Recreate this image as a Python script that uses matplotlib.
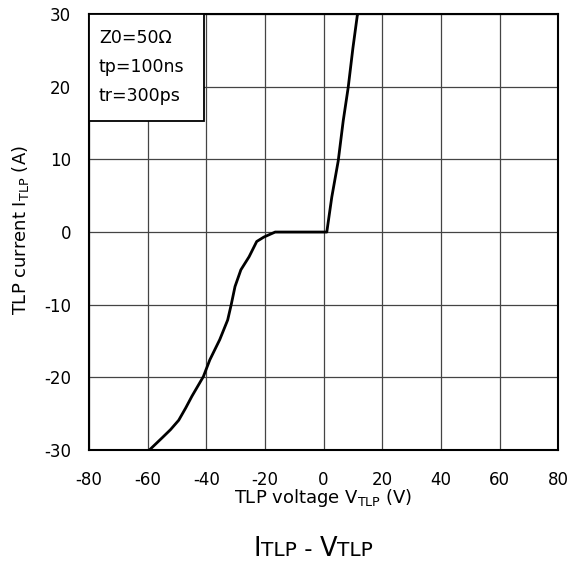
import matplotlib
matplotlib.use("Agg")
import matplotlib.pyplot as plt
from matplotlib.patches import Rectangle

# TLP I-V curve
v_neg = [-59.4, -55.0, -52.2, -49.4, -47.0, -44.9, -41.0, -38.8, -35.4, -32.7,
         -31.5, -30.2, -28.2, -25.4, -22.8, -20.4, -16.5, 0.0, 1.1]
i_neg = [-30.0, -28.3, -27.2, -25.9, -24.2, -22.6, -19.9, -17.6, -14.8, -12.1,
         -10.0, -7.5, -5.2, -3.4, -1.3, -0.7, 0.0, 0.0, 0.0]
v_pos = [2.8, 5.0, 6.7, 8.4, 10.0, 11.5, 11.7]
i_pos = [4.8, 9.8, 15.3, 19.9, 25.3, 29.8, 30.0]

x_ticks = [-80, -60, -40, -20, 0, 20, 40, 60, 80]
y_ticks = [-30, -20, -10, 0, 10, 20, 30]
conditions = ["Z0=50Ω", "tp=100ns", "tr=300ps"]

plt.rcParams['font.family'] = ['DejaVu Sans']
plt.rcParams['axes.unicode_minus'] = False
fig = plt.figure(figsize=(5.76, 5.63), dpi=100)
ax = fig.add_axes([0.1545, 0.2007, 0.8145, 0.7743])

v = v_neg + v_pos
i = i_neg + i_pos
ax.plot(v, i, color='black', linewidth=2.0, zorder=3)

ax.set_xlim(x_ticks[0], x_ticks[-1])
ax.set_ylim(y_ticks[0], y_ticks[-1])
ax.set_xticks(x_ticks)
ax.set_yticks(y_ticks)
ax.tick_params(axis='x', length=0, labelsize=12, pad=15)
ax.tick_params(axis='y', length=0, labelsize=12, pad=13)
ax.grid(True, color='#444444', linewidth=0.9)
for s in ax.spines.values():
    s.set_linewidth(1.5)

ax.set_xlabel('TLP voltage V$_{\\mathregular{TLP}}$ (V)', fontsize=13, va='center')
ax.xaxis.set_label_coords(0.5, -0.110)
ax.set_ylabel('TLP current I$_{\\mathregular{TLP}}$ (A)', fontsize=13, va='center')
ax.yaxis.set_label_coords(-0.147, 0.505)

# condition box in the top-left corner
ax.add_patch(Rectangle((0.0, 0.755), 0.245, 0.245, transform=ax.transAxes,
                       facecolor='white', edgecolor='black', linewidth=1.3, zorder=5))
for k, line in enumerate(conditions):
    ax.text(0.021, 0.945 - k * 0.0665, line, transform=ax.transAxes,
            fontsize=12.5, va='center', ha='left', zorder=6)

# title "ITLP - VTLP" with smaller TLP on the baseline
pieces = [("I", 18.5), ("TLP", 14.5), (" - ", 16.5), ("V", 18.5), ("TLP", 14.5)]
fig.canvas.draw()
renderer = fig.canvas.get_renderer()
texts = []
for s, size in pieces:
    texts.append(fig.text(0, 0.0124, s, fontsize=size, va='baseline', ha='left'))
widths = [t.get_window_extent(renderer).width for t in texts]
x0 = 313 - sum(widths) / 2
for t, w in zip(texts, widths):
    t.set_x(x0 / fig.bbox.width)
    x0 += w

fig.savefig("out.png", dpi=100)
